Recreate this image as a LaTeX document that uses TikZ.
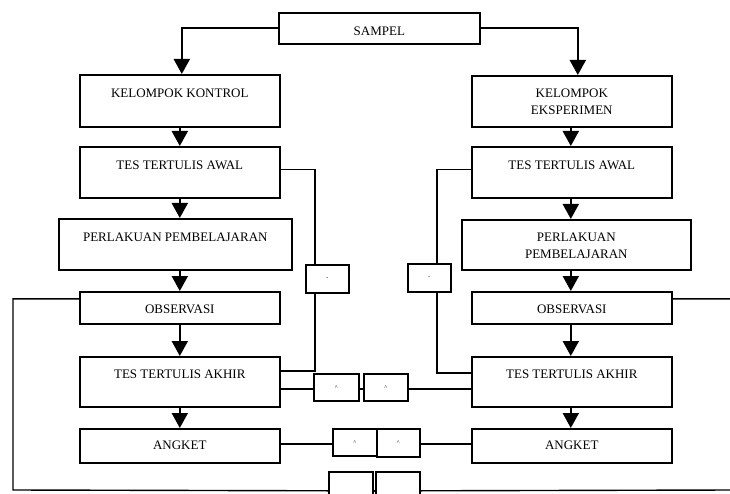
\documentclass[tikz,border=0pt]{standalone}
\usepackage{fontspec}
\setmainfont{Liberation Serif}
\usetikzlibrary{arrows.meta}

\begin{document}
\begin{tikzpicture}[x=1pt, y=-1pt,
        kotak/.style={draw, line width=1.6pt, inner sep=0pt, anchor=north west},
        teks/.style={anchor=north, inner sep=0pt, yshift=-15pt, align=center, font=\fontsize{13}{17}\selectfont},
        kecil/.style={draw, line width=1.6pt, inner sep=0pt, anchor=north west, font=\fontsize{6}{6}\selectfont},
        panah/.style={line width=1.9pt, -{Triangle[width=16pt,length=15pt]}},
        garis/.style={line width=1.4pt}]
        \useasboundingbox (0,0) rectangle (730,494);

        % kotak utama
        \node[kotak, minimum width=201pt, minimum height=31pt, label={[teks]north:SAMPEL}] (sampel) at (278,12) {};
        \node[kotak, minimum width=200pt, minimum height=52pt, label={[teks]north:KELOMPOK KONTROL}] (kk) at (79,74) {};
        \node[kotak, minimum width=200pt, minimum height=51pt, label={[teks, yshift=1pt]north:KELOMPOK\\EKSPERIMEN}] (ke) at (471,75) {};
        \node[kotak, minimum width=200pt, minimum height=51pt, label={[teks]north:TES TERTULIS AWAL}] (awalK) at (79,146) {};
        \node[kotak, minimum width=200pt, minimum height=51pt, label={[teks]north:TES TERTULIS AWAL}] (awalE) at (471,146) {};
        \node[kotak, minimum width=233pt, minimum height=51pt, label={[teks]north:PERLAKUAN PEMBELAJARAN}] (perlakuanK) at (58,218) {};
        \node[kotak, minimum width=229pt, minimum height=50pt, label={[teks, yshift=1pt]north:PERLAKUAN\\PEMBELAJARAN}] (perlakuanE) at (461,219) {};
        \node[kotak, minimum width=200pt, minimum height=32pt, label={[teks, yshift=1pt]north:OBSERVASI}] (obsK) at (79,291) {};
        \node[kotak, minimum width=200pt, minimum height=32pt, label={[teks, yshift=1pt]north:OBSERVASI}] (obsE) at (471,291) {};
        \node[kotak, minimum width=200pt, minimum height=50pt, label={[teks, yshift=1pt]north:TES TERTULIS AKHIR}] (akhirK) at (79,356) {};
        \node[kotak, minimum width=200pt, minimum height=50pt, label={[teks, yshift=1pt]north:TES TERTULIS AKHIR}] (akhirE) at (471,356) {};
        \node[kotak, minimum width=200pt, minimum height=34pt, label={[teks, yshift=2pt]north:ANGKET}] (angketK) at (79,428) {};
        \node[kotak, minimum width=200pt, minimum height=34pt, label={[teks, yshift=2pt]north:ANGKET}] (angketE) at (471,428) {};

        % kotak kecil
        \node[kecil, minimum width=43pt, minimum height=28pt] (s1) at (305,264) {-};
        \node[kecil, minimum width=43pt, minimum height=28pt] (s2) at (407,263) {-};
        \node[kecil, minimum width=45pt, minimum height=27pt] (m1) at (313,373) {\^{}};
        \node[kecil, minimum width=44pt, minimum height=27pt] (m2) at (363,373) {\^{}};
        \node[kecil, minimum width=44pt, minimum height=27pt] (a1) at (332,428) {\^{}};
        \node[kecil, minimum width=43pt, minimum height=28pt] (a2) at (376,428) {\^{}};
        \node[kecil, minimum width=44pt, minimum height=38pt] (b1) at (328,471) {};
        \node[kecil, minimum width=44pt, minimum height=38pt] (b2) at (375,471) {};
        \coordinate (kiri) at (13,490);
        \coordinate (kanan) at (733,490);

        % panah
        \draw[panah] (sampel.west) -| ([xshift=2pt]kk.north);
        \draw[panah] (sampel.east) -| ([xshift=6pt]ke.north);
        \draw[panah] (kk) -- (awalK);
        \draw[panah] (awalK.south) -- (awalK.south |- perlakuanK.north);
        \draw[panah] (perlakuanK.south -| obsK.north) -- (obsK.north);
        \draw[panah] (obsK) -- (akhirK);
        \draw[panah] (akhirK) -- (angketK);
        \draw[panah] ([xshift=-1pt]ke.south) -- ([xshift=-1pt]awalE.north);
        \draw[panah] ([xshift=-1pt]awalE.south) -- ([xshift=-1pt]awalE.south |- perlakuanE.north);
        \draw[panah] ([xshift=-1pt]perlakuanE.south -| obsE.north) -- ([xshift=-1pt]obsE.north);
        \draw[panah] ([xshift=-1pt]obsE.south) -- ([xshift=-1pt]akhirE.north);
        \draw[panah] ([xshift=-1pt]akhirE.south) -- ([xshift=-1pt]angketE.north);

        % garis
        \draw[garis] ([yshift=2.5pt]awalK.east) -| ([xshift=-12.5pt]s1.north);
        \draw[garis] ([xshift=-12.5pt]s1.south) |- ([yshift=11pt]akhirK.east);
        \draw[garis] ([yshift=2.5pt]awalE.west) -| ([xshift=7.5pt]s2.north);
        \draw[garis] ([xshift=7.5pt]s2.south) |- ([yshift=9pt]akhirE.west);
        \draw[garis] ([yshift=-1.5pt]m1.west) -- ([yshift=-1.5pt]m1.west -| akhirK.east);
        \draw[garis] ([yshift=-1.5pt]m1.east) -- ([yshift=-1.5pt]m2.west);
        \draw[garis] ([yshift=-1.5pt]m2.east) -- ([yshift=-1.5pt]m2.east -| akhirE.west);
        \draw[garis] ([yshift=-1.5pt]a1.west) -- ([yshift=-1.5pt]a1.west -| angketK.east);
        \draw[garis] ([yshift=-1pt]a2.east) -- ([yshift=-1pt]a2.east -| angketE.west);
        \draw[garis] ([yshift=9pt]obsK.west) -| (kiri) -- (b1.west);
        \draw[garis] (b1) -- (b2);
        \draw[garis] ([yshift=9pt]obsE.east) -| (kanan) -- (b2.east);
    \end{tikzpicture}
\end{document}
